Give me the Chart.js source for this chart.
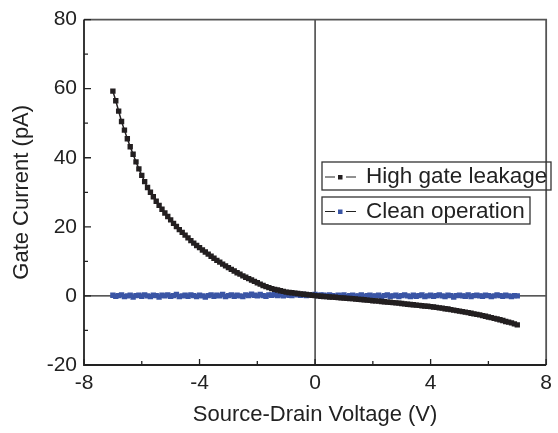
<!DOCTYPE html>
<html>
<head>
<meta charset="utf-8">
<script src="https://cdn.jsdelivr.net/npm/chart.js@4.4.1/dist/chart.umd.min.js"></script>
<style>
  html, body { margin: 0; padding: 0; background: #fff; }
  #wrap { width: 558px; height: 433px; }
</style>
</head>
<body>
<div id="wrap"><canvas id="c"></canvas></div>
<script>
// --- datos ---

const voltage = [
  -7.0,-6.9,-6.8,-6.7,-6.6,-6.5,-6.4,-6.3,-6.2,-6.1,
  -6.0,-5.9,-5.8,-5.7,-5.6,-5.5,-5.4,-5.3,-5.2,-5.1,
  -5.0,-4.9,-4.8,-4.7,-4.6,-4.5,-4.4,-4.3,-4.2,-4.1,
  -4.0,-3.9,-3.8,-3.7,-3.6,-3.5,-3.4,-3.3,-3.2,-3.1,
  -3.0,-2.9,-2.8,-2.7,-2.6,-2.5,-2.4,-2.3,-2.2,-2.1,
  -2.0,-1.9,-1.8,-1.7,-1.6,-1.5,-1.4,-1.3,-1.2,-1.1,
  -1.0,-0.9,-0.8,-0.7,-0.6,-0.5,-0.4,-0.3,-0.2,-0.1,
  0.0,0.1,0.2,0.3,0.4,0.5,0.6,0.7,0.8,0.9,
  1.0,1.1,1.2,1.3,1.4,1.5,1.6,1.7,1.8,1.9,
  2.0,2.1,2.2,2.3,2.4,2.5,2.6,2.7,2.8,2.9,
  3.0,3.1,3.2,3.3,3.4,3.5,3.6,3.7,3.8,3.9,
  4.0,4.1,4.2,4.3,4.4,4.5,4.6,4.7,4.8,4.9,
  5.0,5.1,5.2,5.3,5.4,5.5,5.6,5.7,5.8,5.9,
  6.0,6.1,6.2,6.3,6.4,6.5,6.6,6.7,6.8,6.9,
  7.0
];

// High gate leakage (pA)
const leakHigh = [
  59.3,56.5,53.5,50.5,48.0,45.5,43.2,41.0,38.8,36.8,
  34.9,33.1,31.4,30.0,28.7,27.4,26.2,25.1,24.0,23.0,
  22.0,21.0,20.1,19.2,18.4,17.6,16.8,16.0,15.3,14.6,
  14.0,13.3,12.7,12.1,11.5,10.9,10.3,9.8,9.2,8.7,
  8.2,7.7,7.2,6.7,6.3,5.8,5.4,5.0,4.6,4.2,
  3.8,3.4,3.0,2.7,2.4,2.1,1.9,1.7,1.5,1.3,
  1.1,1.0,0.9,0.8,0.7,0.6,0.5,0.4,0.3,0.2,
  0.1,0.0,-0.1,-0.15,-0.2,-0.3,-0.35,-0.4,-0.5,-0.55,
  -0.6,-0.7,-0.75,-0.8,-0.9,-1.0,-1.05,-1.1,-1.2,-1.3,
  -1.4,-1.45,-1.5,-1.6,-1.7,-1.8,-1.85,-1.95,-2.0,-2.1,
  -2.2,-2.3,-2.4,-2.5,-2.55,-2.65,-2.75,-2.85,-2.95,-3.0,
  -3.1,-3.2,-3.3,-3.45,-3.55,-3.7,-3.8,-3.95,-4.1,-4.25,
  -4.4,-4.55,-4.7,-4.85,-5.0,-5.2,-5.35,-5.5,-5.7,-5.9,
  -6.1,-6.3,-6.5,-6.7,-6.9,-7.1,-7.4,-7.6,-7.8,-8.1,
  -8.4
];

// Clean operation (pA)
const leakClean = [
  0.2,-0.1,0.1,0.3,-0.2,0.0,0.2,-0.3,0.1,0.2,
  -0.1,0.3,0.0,-0.2,0.2,0.1,-0.3,0.2,0.0,0.3,
  -0.1,0.1,0.4,-0.2,0.0,0.2,-0.1,0.3,0.1,-0.2,
  0.2,0.0,-0.3,0.1,0.3,-0.1,0.2,0.0,0.4,-0.2,
  0.1,0.3,-0.1,0.2,0.0,-0.2,0.3,0.1,0.5,0.2,
  0.0,0.4,0.1,-0.1,0.3,0.2,0.5,0.1,0.3,0.0,
  0.4,0.2,0.1,0.5,0.3,0.2,0.4,0.1,0.3,0.2,
  0.4,0.1,0.3,0.2,0.0,0.3,0.1,-0.1,0.2,0.0,
  0.3,-0.2,0.1,0.2,-0.1,0.0,0.3,-0.2,0.1,0.2,
  -0.1,0.0,0.2,-0.3,0.1,0.3,-0.1,0.0,0.2,-0.2,
  0.1,0.3,0.0,-0.2,0.2,-0.1,0.1,0.3,-0.2,0.0,
  0.2,-0.1,0.1,0.3,0.0,-0.2,0.2,0.1,-0.3,0.1,
  0.2,0.0,-0.1,0.3,-0.2,0.1,0.2,0.0,-0.1,0.2,
  0.1,-0.2,0.0,0.3,0.1,-0.1,0.2,0.0,-0.2,0.1,
  0.0
];

const seriesNames = ['High gate leakage', 'Clean operation'];
const xTicks = [-8, -4, 0, 4, 8];
const xMinor = [-6, -2, 2, 6];
const yTicks = [-20, 0, 20, 40, 60, 80];
const yMinor = [-10, 10, 30, 50, 70];

const BLACK = '#231f20';
const BLUE = '#3a55a5';
const FONT = '"Liberation Sans", Arial, sans-serif';

// ejes, marco y leyenda en cajas
const framePlugin = {
  id: 'frame',
  beforeDatasetsDraw(chart) {
    const { ctx, chartArea: a, scales: { x, y } } = chart;
    const x0 = x.getPixelForValue(0);
    const y0 = y.getPixelForValue(0);
    ctx.save();
    ctx.strokeStyle = '#222';
    ctx.lineWidth = 1.3;
    ctx.beginPath();
    ctx.moveTo(x0, a.top); ctx.lineTo(x0, a.bottom);
    ctx.moveTo(a.left, y0); ctx.lineTo(a.right, y0);
    ctx.stroke();
    ctx.restore();
  },
  afterDraw(chart) {
    const { ctx, chartArea: a, scales: { x, y } } = chart;
    ctx.save();
    // marco
    ctx.lineWidth = 1.8;
    ctx.strokeStyle = '#555';
    ctx.beginPath();
    ctx.moveTo(a.left, a.top); ctx.lineTo(a.right, a.top); ctx.lineTo(a.right, a.bottom);
    ctx.stroke();
    ctx.strokeStyle = '#222';
    ctx.beginPath();
    ctx.moveTo(a.left, a.top); ctx.lineTo(a.left, a.bottom); ctx.lineTo(a.right, a.bottom);
    ctx.stroke();

    // ticks hacia adentro
    ctx.lineWidth = 1.3;
    ctx.beginPath();
    xTicks.forEach(v => { const p = x.getPixelForValue(v); ctx.moveTo(p, a.bottom); ctx.lineTo(p, a.bottom - 6); });
    xMinor.forEach(v => { const p = x.getPixelForValue(v); ctx.moveTo(p, a.bottom); ctx.lineTo(p, a.bottom - 4); });
    yTicks.forEach(v => { const p = y.getPixelForValue(v); ctx.moveTo(a.left, p); ctx.lineTo(a.left + 7, p); });
    yMinor.forEach(v => { const p = y.getPixelForValue(v); ctx.moveTo(a.left, p); ctx.lineTo(a.left + 4, p); });
    ctx.stroke();

    // leyenda
    const boxes = [
      { l: 322, t: 162, r: 551, b: 190, color: BLACK, text: seriesNames[0] },
      { l: 322, t: 197, r: 530, b: 224, color: BLUE, text: seriesNames[1] }
    ];
    ctx.font = '22.5px ' + FONT;
    ctx.textBaseline = 'middle';
    boxes.forEach(bx => {
      ctx.strokeStyle = '#333';
      ctx.lineWidth = 1.3;
      ctx.strokeRect(bx.l, bx.t, bx.r - bx.l, bx.b - bx.t);
      const cy = (bx.t + bx.b) / 2 + 1;
      ctx.strokeStyle = '#222';
      ctx.lineWidth = 1;
      ctx.beginPath();
      ctx.moveTo(bx.l + 3, cy); ctx.lineTo(bx.l + 13, cy);
      ctx.moveTo(bx.l + 24, cy); ctx.lineTo(bx.l + 34, cy);
      ctx.stroke();
      ctx.fillStyle = bx.color;
      ctx.fillRect(bx.l + 16, cy - 2, 4.5, 4.5);
      ctx.fillStyle = '#222';
      ctx.fillText(bx.text, bx.l + 44, cy);
    });
    ctx.restore();
  }
};

function toPoints(ys) {
  return voltage.map((v, i) => ({ x: v, y: ys[i] }));
}

new Chart(document.getElementById('c'), {
  type: 'line',
  data: {
    datasets: [
      {
        label: seriesNames[0], data: toPoints(leakHigh),
        borderColor: BLACK, borderWidth: 1.5,
        pointStyle: 'rect', pointRadius: 3.8, pointBorderWidth: 0,
        pointBackgroundColor: BLACK
      },
      {
        label: seriesNames[1], data: toPoints(leakClean),
        borderColor: BLUE, borderWidth: 1.5,
        pointStyle: 'rect', pointRadius: 3.8, pointBorderWidth: 0,
        pointBackgroundColor: BLUE
      }
    ]
  },
  options: {
    animation: false,
    responsive: true,
    maintainAspectRatio: false,
    layout: { padding: { left: 0, top: 17, right: 6, bottom: 0 } },
    scales: {
      x: {
        type: 'linear', min: -8, max: 8,
        afterFit: s => { s.height = 68; },
        afterBuildTicks: s => { s.ticks = xTicks.map(v => ({ value: v })); },
        grid: { display: false, drawTicks: false },
        border: { display: false },
        ticks: { color: '#222', padding: 6, font: { size: 21, family: FONT } },
        title: { display: true, text: 'Source-Drain Voltage (V)', color: '#222',
                 padding: { bottom: 5 }, font: { size: 22, family: FONT } }
      },
      y: {
        type: 'linear', min: -20, max: 80,
        afterFit: s => { s.width = 84; },
        afterBuildTicks: s => { s.ticks = yTicks.map(v => ({ value: v })); },
        grid: { display: false, drawTicks: false },
        border: { display: false },
        ticks: { color: '#222', padding: 7, font: { size: 21, family: FONT } },
        title: { display: true, text: 'Gate Current (pA)', color: '#222',
                 padding: { top: 9 }, font: { size: 22, family: FONT } }
      }
    },
    plugins: { legend: { display: false }, tooltip: { enabled: false } }
  },
  plugins: [framePlugin]
});
</script>
</body>
</html>
